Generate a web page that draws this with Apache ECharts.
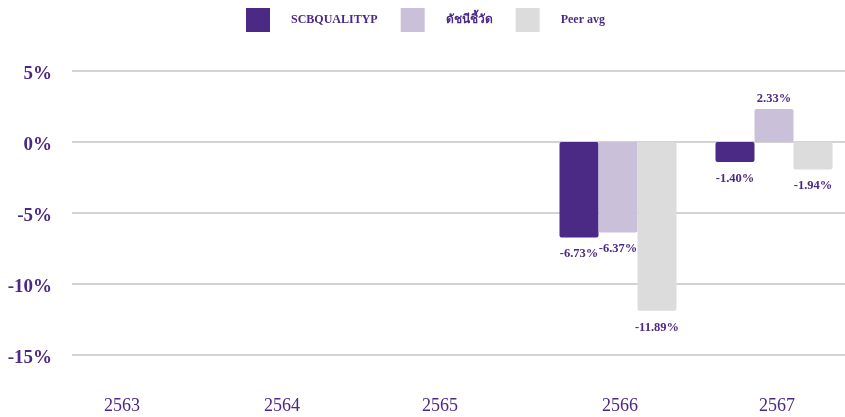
<!DOCTYPE html>
<html>
<head>
<meta charset="utf-8">
<script src="https://cdn.jsdelivr.net/npm/echarts@6/dist/echarts.min.js"></script>
<style>
  html, body { margin: 0; padding: 0; background: #fff; }
  #chart { width: 845px; height: 417px; }
</style>
</head>
<body>
<div id="chart"></div>
<script>
var years = ['2563', '2564', '2565', '2566', '2567'];
var seriesNames = ['SCBQUALITYP', 'ดัชนีชี้วัด', 'Peer avg'];
var fundValues = [null, null, null, -6.73, -1.40];
var indexValues = [null, null, null, -6.37, 2.33];
var peerValues = [null, null, null, -11.89, -1.94];
var colors = ['#4b2a86', '#cbc0d9', '#dcdcdc'];

var purple = '#4b2885';
var serif = '"Liberation Serif", "Times New Roman", serif';

function toItems(values) {
  return values.map(function (v) {
    if (v === null) return null;
    return {
      value: v,
      label: v < 0 ? { position: 'bottom', distance: 10 } : { position: 'top', distance: 4 }
    };
  });
}

function makeSeries(name, values, color) {
  return {
    name: name,
    type: 'bar',
    data: toItems(values),
    barGap: '0%',
    barCategoryGap: '25%',
    itemStyle: { color: color, borderRadius: 2 },
    label: {
      show: true,
      color: purple,
      fontFamily: serif,
      fontWeight: 'bold',
      fontSize: 12.5,
      formatter: function (p) { return p.value.toFixed(2) + '%'; }
    }
  };
}

// the source nudges the first three year labels to the left
var xLabelRich = {
  l0: { padding: [0, 56, 0, 0] },
  l1: { padding: [0, 48, 0, 0] },
  l2: { padding: [0, 44, 0, 0] },
  l3: { padding: [0, 0, 0, 4] },
  l4: { padding: [0, 0, 0, 6] }
};

var chart = echarts.init(document.getElementById('chart'));
chart.setOption({
  animation: false,
  legend: {
    left: 241,
    top: 3,
    itemWidth: 24,
    itemHeight: 24,
    itemGap: 23,
    icon: 'rect',
    textStyle: {
      fontFamily: serif,
      fontWeight: 'bold',
      fontSize: 12,
      color: purple,
      padding: [0, 0, 0, 16]
    },
    data: seriesNames
  },
  grid: { left: 72, width: 780, top: 71, bottom: 62, outerBoundsMode: 'none' },
  xAxis: {
    type: 'category',
    data: years,
    axisLine: { show: false },
    axisTick: { show: false },
    axisLabel: {
      margin: 42,
      fontFamily: serif,
      fontSize: 18,
      color: purple,
      formatter: function (v, i) { return '{l' + i + '|' + v + '}'; },
      rich: xLabelRich
    }
  },
  yAxis: {
    type: 'value',
    min: -15,
    max: 5,
    interval: 5,
    axisLabel: {
      margin: 20,
      verticalAlign: 'top',
      lineHeight: 6,
      fontFamily: serif,
      fontWeight: 'bold',
      fontSize: 19,
      color: purple,
      formatter: '{value}%'
    },
    splitLine: { lineStyle: { color: '#d3d3d3', width: 2 } }
  },
  series: [
    makeSeries(seriesNames[0], fundValues, colors[0]),
    makeSeries(seriesNames[1], indexValues, colors[1]),
    makeSeries(seriesNames[2], peerValues, colors[2])
  ]
});
</script>
</body>
</html>
